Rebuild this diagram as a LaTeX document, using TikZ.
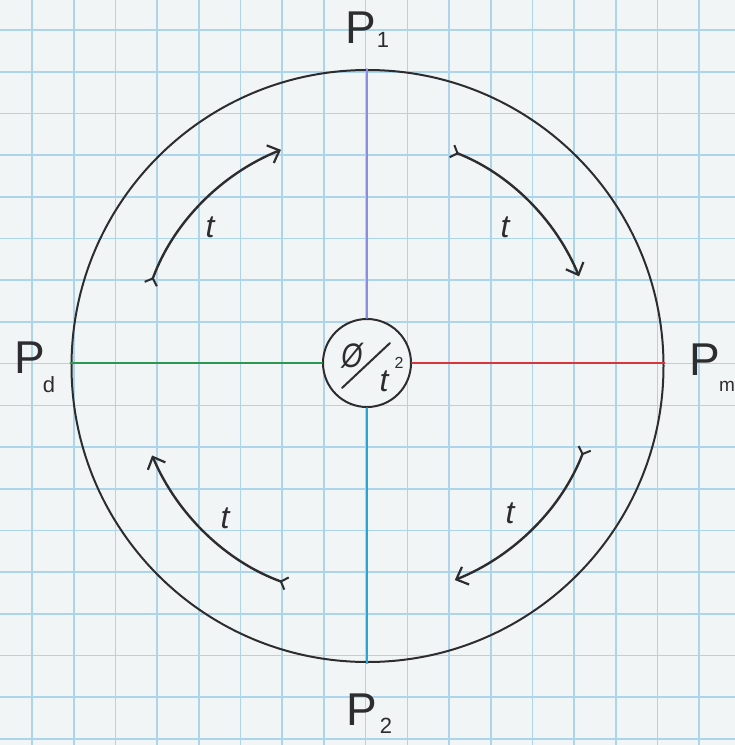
\documentclass[tikz,border=0pt]{standalone}
\usepackage{fontspec}
\setmainfont{Liberation Sans}
\usetikzlibrary{arrows.meta}
\definecolor{paper}{RGB}{242,245,246}
\definecolor{gridc}{RGB}{172,212,234}
\definecolor{ink}{RGB}{45,45,48}
\definecolor{axtop}{RGB}{140,140,225}
\definecolor{axbot}{RGB}{40,165,210}
\definecolor{axleft}{RGB}{45,150,80}
\definecolor{axright}{RGB}{215,55,60}
\begin{document}
\begin{tikzpicture}[x=1pt,y=-1pt,line cap=round,
  pen/.style={draw=ink,line width=2pt},
  axis/.style={line width=2pt},
  flow/.style={draw=ink,line width=2.4pt,
    {Straight Barb[reversed,length=6pt,width=13pt,line width=2pt]}-{Straight Barb[length=10pt,width=19pt,line width=2.2pt]}},
  plabel/.style={font=\fontsize{46}{46}\selectfont,text=ink,inner sep=0pt},
  sublabel/.style={font=\fontsize{22}{22}\selectfont,text=ink,inner sep=0pt},
  tlabel/.style={font=\itshape\fontsize{32}{32}\selectfont,text=ink,inner sep=0pt}]
\fill[paper] (0,0) rectangle (735,745);
\useasboundingbox (0,0) rectangle (735,745);
\foreach \i in {0,...,17} {
  \draw[gridc,line width=1.6pt] ({32+41.7*\i},0) -- ({32+41.7*\i},745);
  \draw[gridc,line width=1.6pt] (0,{30+41.7*\i}) -- (735,{30+41.7*\i});
}
\coordinate (c) at (367.5,364);
\node[circle,pen,minimum size=592pt,inner sep=0pt] (outer) at (367.5,366) {};
\node[circle,pen,minimum size=88pt,inner sep=0pt,fill=paper] (hub) at (367,363) {};
% axes
\draw[axis,axtop] (hub.north) -- (hub.north |- outer.north);
\draw[axis,axbot] (hub.south) -- (hub.south |- outer.south);
\draw[axis,axleft] (hub.west) -- (hub.west -| outer.west);
\draw[axis,axright] (hub.east) -- (hub.east -| outer.east);
% center symbol
\node[font=\itshape\fontsize{34}{34}\selectfont,text=ink,inner sep=0pt,xscale=0.8] (phi) at (352,356) {Ø};
\draw[ink,line width=2pt] (342,388) -- (390,343);
\node[tlabel,font=\itshape\fontsize{32}{32}\selectfont] (tc) at (384,381) {t};
\node[sublabel,font=\fontsize{16}{16}\selectfont] (tcs) at (399,363) {2};
% labels
\node[plabel] (p1) at (361,28) {P};
\node[sublabel] (p1s) at (383,40) {1};
\node[plabel] (p2) at (362,710) {P};
\node[sublabel] (p2s) at (386,726) {2};
\node[plabel] (pd) at (30,358) {P};
\node[sublabel] (pds) at (49,385) {d};
\node[plabel] (pm) at (705,360) {P};
\node[sublabel,font=\fontsize{19}{19}\selectfont] (pms) at (727,386) {m};
% flows
\draw[flow] ([shift={(-160:231)}]c) arc[start angle=-160,end angle=-112,radius=231];
\draw[flow] ([shift={(-68.6:229)}]c) arc[start angle=-68.6,end angle=-22.5,radius=229];
\draw[flow] ([shift={(21:233)}]c) arc[start angle=21,end angle=68,radius=233];
\draw[flow] ([shift={(110:234)}]c) arc[start angle=110,end angle=157,radius=234];
\node[tlabel] (t1) at (210,227) {t};
\node[tlabel] (t2) at (505,227) {t};
\node[tlabel] (t3) at (510,513) {t};
\node[tlabel] (t4) at (225,518) {t};
\end{tikzpicture}
\end{document}
